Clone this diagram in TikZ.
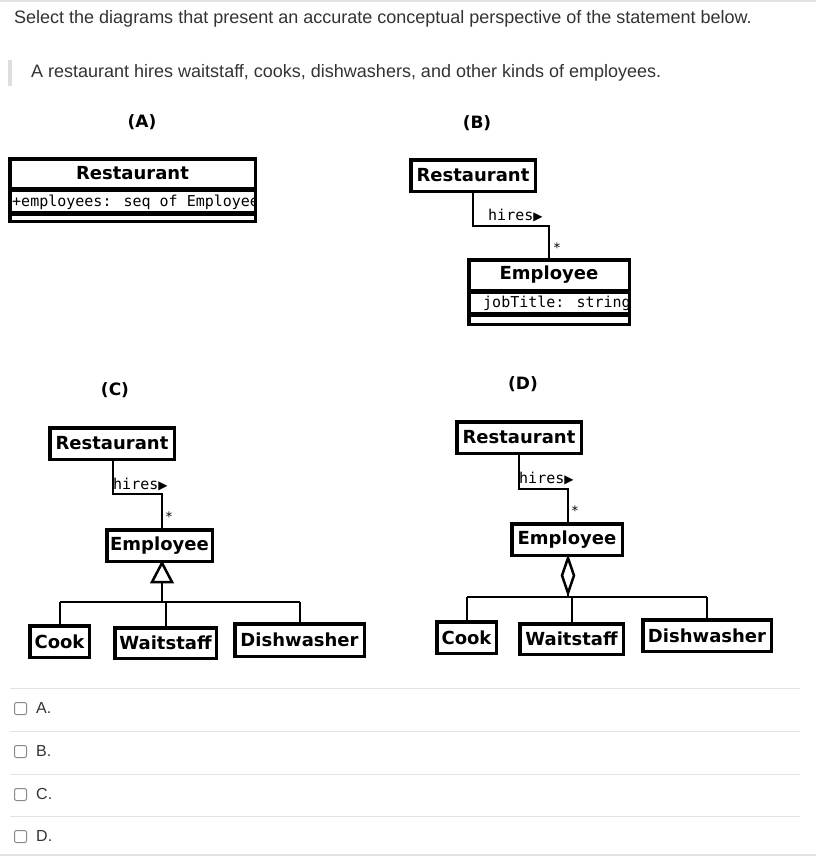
\documentclass[tikz,border=0pt]{standalone}
\usepackage{fontspec}
\setmainfont{Liberation Sans}
\newfontfamily\dvs{DejaVu Sans}
\newfontfamily\dvm{DejaVu Sans Mono}
\definecolor{txt}{HTML}{333333}
\definecolor{sep}{HTML}{E2E2E2}
\definecolor{boxgray}{HTML}{8A8A8A}
\newcommand\clsfont{\dvs\bfseries\fontsize{18}{20}\selectfont}
\newcommand\monofont{\dvm\fontsize{15}{17}\selectfont}
\newcommand\tri{{\dvs\fontsize{12}{12}\selectfont ▶}}
\tikzset{
  cls/.style={draw=black, line width=3.5pt, fill=white, inner sep=0pt, font=\clsfont, text=black},
  conn/.style={draw=black, line width=2pt},
  lbl/.style={inner sep=0pt, font=\monofont, text=black},
  star/.style={inner sep=0pt, font=\dvm\fontsize{13}{13}\selectfont, text=black},
  head/.style={inner sep=0pt, font=\dvs\bfseries\fontsize{17}{20}\selectfont, text=black},
  qtext/.style={inner sep=0pt, font=\fontsize{18}{21}\selectfont, text=txt, anchor=base west},
  opt/.style={inner sep=0pt, font=\fontsize{16}{19}\selectfont, text=txt, anchor=west},
  chk/.style={draw=boxgray, line width=1pt, rounded corners=2pt, fill=white, minimum size=12pt, inner sep=0pt},
  seprule/.style={draw=sep, line width=1pt}
}
\newcommand\clsbox[6]{\node[cls, minimum width={#4-#2-3.5}, minimum height={#5-#3-3.5}] (#1) at ({(#2+#4)/2},{(#3+#5)/2}) {#6};}
\begin{document}
\begin{tikzpicture}[x=1pt,y=-1pt]
\useasboundingbox (0,0) rectangle (816,856);
\fill[white] (0,0) rectangle (816,856);
% top border
\draw[draw=sep, line width=2pt] (0,1) -- (816,1);
% question
\node[qtext] (q1) at (14,24) {Select the diagrams that present an accurate conceptual perspective of the statement below.};
\fill[sep!90!black!20!sep] (8,60) rectangle (12,86);
\node[qtext] (q2) at (31,78) {A restaurant hires waitstaff, cooks, dishwashers, and other kinds of employees.};
% headings
\node[head] (hA) at (142,122) {(A)};
\node[head] (hB) at (477,123) {(B)};
\node[head] (hC) at (115,390) {(C)};
\node[head] (hD) at (523,384) {(D)};
% ---------- A
\clsbox{rA}{8}{157}{257}{190}{Restaurant}
\clsbox{aA}{8}{188}{257}{214}{}
\clsbox{oA}{8}{212}{257}{223}{}
\begin{scope}
\clip (10,191) rectangle (255,211);
\node[lbl, anchor=west] (tA) at (12,202) {+employees: seq of Employee};
\end{scope}
% ---------- B
\clsbox{rB}{409}{158}{537}{193}{Restaurant}
\clsbox{eB}{467}{258}{631}{292}{Employee}
\clsbox{aB}{467}{290}{631}{315}{}
\clsbox{oB}{467}{313}{631}{326}{}
\begin{scope}
\clip (469,292) rectangle (628,312);
\node[lbl, anchor=west] (tB) at (483,303) {jobTitle: string};
\end{scope}
\coordinate (b1) at (473,226);
\coordinate (b2) at (549,226);
\draw[conn] (rB.south -| b1) -- (b1) -- (b2) -- (eB.north -| b2);
\node[lbl, anchor=west] (lB) at (488,216) {hires\tri};
\node[star] (sB) at (557,248) {*};
% ---------- C
\clsbox{rC}{48}{426}{176}{461}{Restaurant}
\clsbox{eC}{105}{528}{214}{563}{Employee}
\clsbox{cC}{28}{624}{91}{659}{Cook}
\clsbox{wC}{113}{626}{218}{660}{Waitstaff}
\clsbox{dC}{233}{622}{366}{658}{Dishwasher}
\coordinate (c1) at (113,494);
\coordinate (c2) at (162,494);
\draw[conn] (rC.south -| c1) -- (c1) -- (c2) -- (eC.north -| c2);
\node[lbl, anchor=west] (lC) at (113,485) {hires\tri};
\node[star] (sC) at (169,517) {*};
\coordinate (tapC) at (162,563);
\coordinate (tbC) at (162,582);
\coordinate (jC) at (162,602);
\draw[conn] (tbC) -- (jC);
\draw[conn] (cC.north |- jC) -- (dC.north |- jC);
\draw[conn] (cC.north) -- (cC.north |- jC);
\draw[conn] (wC.north) -- (wC.north |- jC);
\draw[conn] (dC.north) -- (dC.north |- jC);
\draw[draw=black, line width=2.5pt, fill=white, line join=miter] (tapC) -- ([xshift=10pt]tbC) -- ([xshift=-10pt]tbC) -- cycle;
% ---------- D
\clsbox{rD}{455}{420}{583}{455}{Restaurant}
\clsbox{eD}{510}{522}{624}{557}{Employee}
\clsbox{cD}{435}{620}{498}{655}{Cook}
\clsbox{wD}{518}{622}{625}{656}{Waitstaff}
\clsbox{dD}{641}{618}{773}{653}{Dishwasher}
\coordinate (d1) at (519,489);
\coordinate (d2) at (568,489);
\draw[conn] (rD.south -| d1) -- (d1) -- (d2) -- (eD.north -| d2);
\node[lbl, anchor=west] (lD) at (519,479) {hires\tri};
\node[star] (sD) at (575,511) {*};
\coordinate (dtop) at (568,558);
\coordinate (dbot) at (568,593);
\coordinate (jD) at (568,597);
\draw[conn] (dbot) -- (jD);
\draw[conn] (cD.north |- jD) -- (dD.north |- jD);
\draw[conn] (cD.north) -- (cD.north |- jD);
\draw[conn] (wD.north) -- (wD.north |- jD);
\draw[conn] (dD.north) -- (dD.north |- jD);
\draw[draw=black, line width=2.5pt, fill=white, line join=miter] (dtop) -- (574,575.5) -- (dbot) -- (562,575.5) -- cycle;
% ---------- options
\draw[seprule] (10,688) -- (800,688);
\draw[seprule] (10,731) -- (800,731);
\draw[seprule] (10,774) -- (800,774);
\draw[seprule] (10,816) -- (800,816);
\draw[draw=sep, line width=2pt] (0,855) -- (816,855);
\node[chk] (kA) at (20.5,708.5) {};
\node[chk] (kB) at (20.5,751.5) {};
\node[chk] (kC) at (20.5,794.5) {};
\node[chk] (kD) at (20.5,836.5) {};
\node[opt] (oA) at (36,708) {A.};
\node[opt] (oB) at (36,751) {B.};
\node[opt] (oC) at (36,794) {C.};
\node[opt] (oD) at (36,836) {D.};
\end{tikzpicture}
\end{document}
